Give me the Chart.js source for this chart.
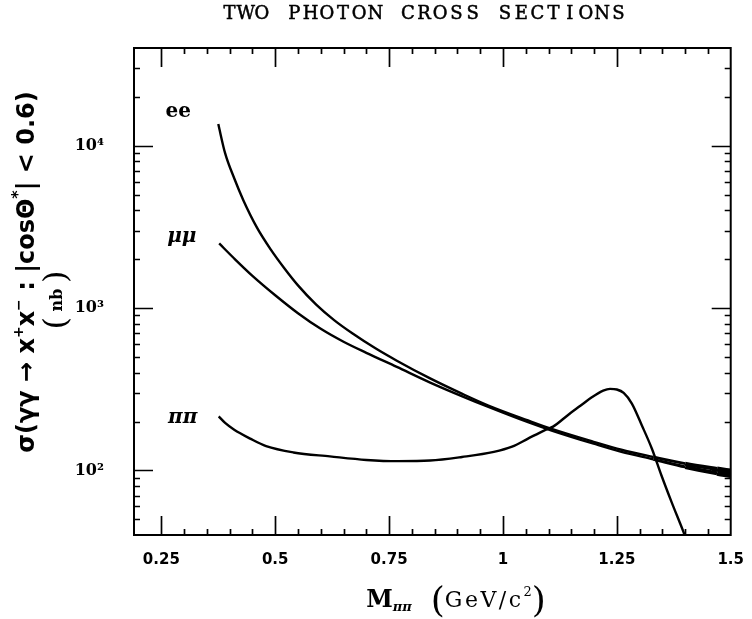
<!DOCTYPE html>
<html>
<head>
<meta charset="utf-8">
<title>Two photon cross sections</title>
<script src="https://cdn.jsdelivr.net/npm/chart.js@4.4.1/dist/chart.umd.min.js"></script>
<style>
  html, body { margin: 0; padding: 0; background: #fff; }
  #wrap { width: 752px; height: 619px; }
</style>
</head>
<body>
<div id="wrap"><canvas id="chart" width="752" height="619"></canvas></div>
<script>
// ---- data -------------------------------------------------------------
const xTickValues = [0.25, 0.5, 0.75, 1, 1.25, 1.5];
const xTickLabels = ['0.25', '0.5', '0.75', '1', '1.25', '1.5'];
const yTickValues = [100, 1000, 10000];
const yTickLabels = ['10²', '10³', '10⁴'];
const curveNames = ['ee', 'μμ', 'ππ'];

// γγ → e+e−  (nb) against pair mass (GeV/c²)
const massEE  = [0.375, 0.39, 0.41, 0.43, 0.46, 0.49, 0.52, 0.55, 0.59, 0.63, 0.67, 0.72,
                 0.767, 0.839, 0.912, 0.968, 1.055, 1.107, 1.199, 1.26, 1.33, 1.40, 1.47, 1.50];
const sigmaEE = [13600, 9000, 6300, 4620, 3130, 2300, 1760, 1380, 1050, 840, 697, 565,
                 474, 370, 295, 251, 203, 180, 150, 134, 121, 110, 102, 99];

// γγ → μ+μ−
const massMM  = [0.377, 0.41, 0.45, 0.50, 0.55, 0.60, 0.65, 0.70, 0.767, 0.839, 0.912, 0.968,
                 1.055, 1.107, 1.199, 1.26, 1.33, 1.40, 1.47, 1.50];
const sigmaMM = [2500, 2020, 1580, 1200, 930, 745, 620, 530, 434, 349, 285, 246,
                 198, 176, 146, 130, 117, 105, 96, 93];

// γγ → π+π−  (f2(1270) bump)
const massPP  = [0.376, 0.39, 0.41, 0.445, 0.48, 0.54, 0.62, 0.70, 0.77, 0.84, 0.91, 0.98,
                 1.02, 1.055, 1.09, 1.11, 1.145, 1.17, 1.195, 1.22, 1.235, 1.25, 1.265,
                 1.283, 1.305, 1.327, 1.348, 1.37, 1.396, 1.41];
const sigmaPP = [215, 196, 178, 157, 141, 129, 122, 116, 114, 115, 121, 130,
                 140, 157, 176, 186, 222, 250, 282, 310, 318, 315, 300,
                 258, 189, 136, 93, 64, 42, 33];

// ---- helpers ----------------------------------------------------------
const toPoints = (xs, ys) => xs.map((x, i) => ({ x, y: ys[i] }));

// curves thicken towards the high-mass end where ee and μμ run together
const tailWidth = c => {
  const x = c.p0.parsed.x;
  return x < 1.3 ? 2.4 : 2.4 + (x - 1.3) * 16;
};

// draw a row of text pieces (font / baseline shift / letter spacing each), centred on cx
function drawRuns(ctx, runs, cx, baseY) {
  let total = 0;
  runs.forEach(r => {
    ctx.font = r.font;
    ctx.letterSpacing = r.ls || '0px';
    r.w = ctx.measureText(r.t).width;
    total += r.w;
  });
  let x = cx - total / 2;
  ctx.textAlign = 'left';
  ctx.textBaseline = 'alphabetic';
  runs.forEach(r => {
    ctx.font = r.font;
    ctx.letterSpacing = r.ls || '0px';
    ctx.fillText(r.t, x, baseY + (r.dy || 0));
    x += r.w;
  });
  ctx.letterSpacing = '0px';
}

// typewriter-style heading: every glyph sits in a fixed-width cell
function drawPitched(ctx, text, cx, cy, pitch, font) {
  ctx.font = font;
  ctx.textAlign = 'center';
  ctx.textBaseline = 'middle';
  ctx.lineWidth = 0.5;
  const start = cx - (text.length * pitch) / 2 + pitch / 2;
  [...text].forEach((ch, i) => {
    ctx.fillText(ch, start + i * pitch, cy);
    ctx.strokeText(ch, start + i * pitch, cy);
  });
}

// label anchors, in data coordinates (mass, cross section)
const labelAnchors = [
  { name: curveNames[0], x: 0.287, y: 16200, font: 'bold 20px "DejaVu Serif", serif' },
  { name: curveNames[1], x: 0.295, y: 2760,  font: 'italic bold 20px "DejaVu Serif", serif' },
  { name: curveNames[2], x: 0.297, y: 212,   font: 'italic bold 20px "DejaVu Serif", serif' }
];

const frameAndText = {
  id: 'frameAndText',
  afterDraw(chart) {
    const { ctx, chartArea: a, scales: { x, y } } = chart;
    ctx.save();
    ctx.fillStyle = '#000';
    ctx.strokeStyle = '#000';

    // frame
    ctx.lineWidth = 2;
    ctx.strokeRect(a.left, a.top, a.right - a.left, a.bottom - a.top);

    // inward tick marks on all four sides
    ctx.lineWidth = 1.7;
    ctx.beginPath();
    for (let k = 1; k <= 30; k++) {
      const v = k * 0.05;
      if (v <= x.min + 0.02 || v >= x.max - 0.001) continue;
      const px = Math.round(x.getPixelForValue(v)) + 0.5;
      const len = k % 5 === 0 ? 19 : 6;
      ctx.moveTo(px, a.bottom); ctx.lineTo(px, a.bottom - len);
      ctx.moveTo(px, a.top);    ctx.lineTo(px, a.top + len);
    }
    for (let d = 1; d <= 4; d++) {
      for (let m = 1; m <= 9; m++) {
        const v = m * Math.pow(10, d);
        if (v <= y.min * 1.01 || v >= y.max * 0.99) continue;
        const py = Math.round(y.getPixelForValue(v)) + 0.5;
        const len = m === 1 ? 19 : 6;
        ctx.moveTo(a.left, py);  ctx.lineTo(a.left + len, py);
        ctx.moveTo(a.right, py); ctx.lineTo(a.right - len, py);
      }
    }
    ctx.stroke();

    // curve names
    labelAnchors.forEach(l => {
      ctx.font = l.font;
      ctx.textAlign = 'center';
      ctx.textBaseline = 'middle';
      ctx.fillText(l.name, x.getPixelForValue(l.x), y.getPixelForValue(l.y));
    });

    // heading
    drawPitched(ctx, 'TWO PHOTON CROSS SECTIONS', 424, 14, 16.2, '18px "DejaVu Serif", serif');

    // x-axis title
    drawRuns(ctx, [
      { t: 'M', font: 'bold 24px "DejaVu Serif", serif' },
      { t: 'ππ', font: 'italic bold 13px "DejaVu Serif", serif', dy: 4 },
      { t: '   ', font: '20px "DejaVu Serif", serif' },
      { t: '(', font: '36px "DejaVu Serif", serif', dy: 5 },
      { t: 'GeV/c', font: '22px "DejaVu Serif", serif', ls: '2.5px' },
      { t: '2', font: '13px "DejaVu Serif", serif', dy: -11 },
      { t: ')', font: '36px "DejaVu Serif", serif', dy: 5 }
    ], 456, 607);

    // y-axis title, two rotated lines
    ctx.save();
    ctx.translate(25, 272);
    ctx.rotate(-Math.PI / 2);
    drawRuns(ctx, [
      { t: 'σ(γγ → x', font: 'bold 24px "DejaVu Sans", sans-serif' },
      { t: '+', font: 'bold 14px "DejaVu Sans", sans-serif', dy: -11 },
      { t: 'x', font: 'bold 24px "DejaVu Sans", sans-serif' },
      { t: '−', font: 'bold 14px "DejaVu Sans", sans-serif', dy: -11 },
      { t: ' : |cosΘ', font: 'bold 24px "DejaVu Sans", sans-serif' },
      { t: '*', font: 'bold 16px "DejaVu Sans", sans-serif', dy: -11 },
      { t: '| < 0.6)', font: 'bold 24px "DejaVu Sans", sans-serif' }
    ], 0, 9);
    ctx.restore();

    ctx.save();
    ctx.translate(56, 300);
    ctx.rotate(-Math.PI / 2);
    drawRuns(ctx, [
      { t: '(', font: '32px "DejaVu Serif", serif', dy: 3 },
      { t: ' nb ', font: 'bold 16px "DejaVu Serif", serif', dy: -1 },
      { t: ')', font: '32px "DejaVu Serif", serif', dy: 3 }
    ], 0, 7);
    ctx.restore();

    ctx.restore();
  }
};

// ---- chart ------------------------------------------------------------
const lineStyle = {
  borderColor: '#000',
  borderWidth: 2.4,
  pointRadius: 0,
  fill: false,
  cubicInterpolationMode: 'monotone'
};

new Chart(document.getElementById('chart'), {
  type: 'line',
  data: {
    datasets: [
      { ...lineStyle, label: curveNames[0], data: toPoints(massEE, sigmaEE), segment: { borderWidth: tailWidth } },
      { ...lineStyle, label: curveNames[1], data: toPoints(massMM, sigmaMM), segment: { borderWidth: tailWidth } },
      { ...lineStyle, label: curveNames[2], data: toPoints(massPP, sigmaPP) }
    ]
  },
  options: {
    responsive: false,
    devicePixelRatio: 1,
    animation: false,
    layout: { padding: { top: 48, right: 10, left: 0, bottom: 0 } },
    plugins: {
      legend: { display: false },
      title: { display: false },
      tooltip: { enabled: false }
    },
    scales: {
      x: {
        type: 'linear',
        min: 0.19,
        max: 1.5,
        afterBuildTicks: s => { s.ticks = xTickValues.map(v => ({ value: v })); },
        afterFit: s => { s.height = 84; },
        grid: { display: false },
        border: { display: false },
        ticks: {
          autoSkip: false,
          maxRotation: 0,
          padding: 8,
          color: '#000',
          font: { family: '"DejaVu Sans", sans-serif', weight: 'bold', size: 15 },
          callback: (v, i) => xTickLabels[i]
        }
      },
      y: {
        type: 'logarithmic',
        min: 40,
        max: 40000,
        afterBuildTicks: s => { s.ticks = yTickValues.map(v => ({ value: v })); },
        afterFit: s => { s.width = 134; },
        grid: { display: false },
        border: { display: false },
        ticks: {
          autoSkip: false,
          padding: 22,
          color: '#000',
          font: { family: '"DejaVu Serif", serif', weight: 'bold', size: 16 },
          callback: (v, i) => yTickLabels[i]
        }
      }
    }
  },
  plugins: [frameAndText]
});
</script>
</body>
</html>
